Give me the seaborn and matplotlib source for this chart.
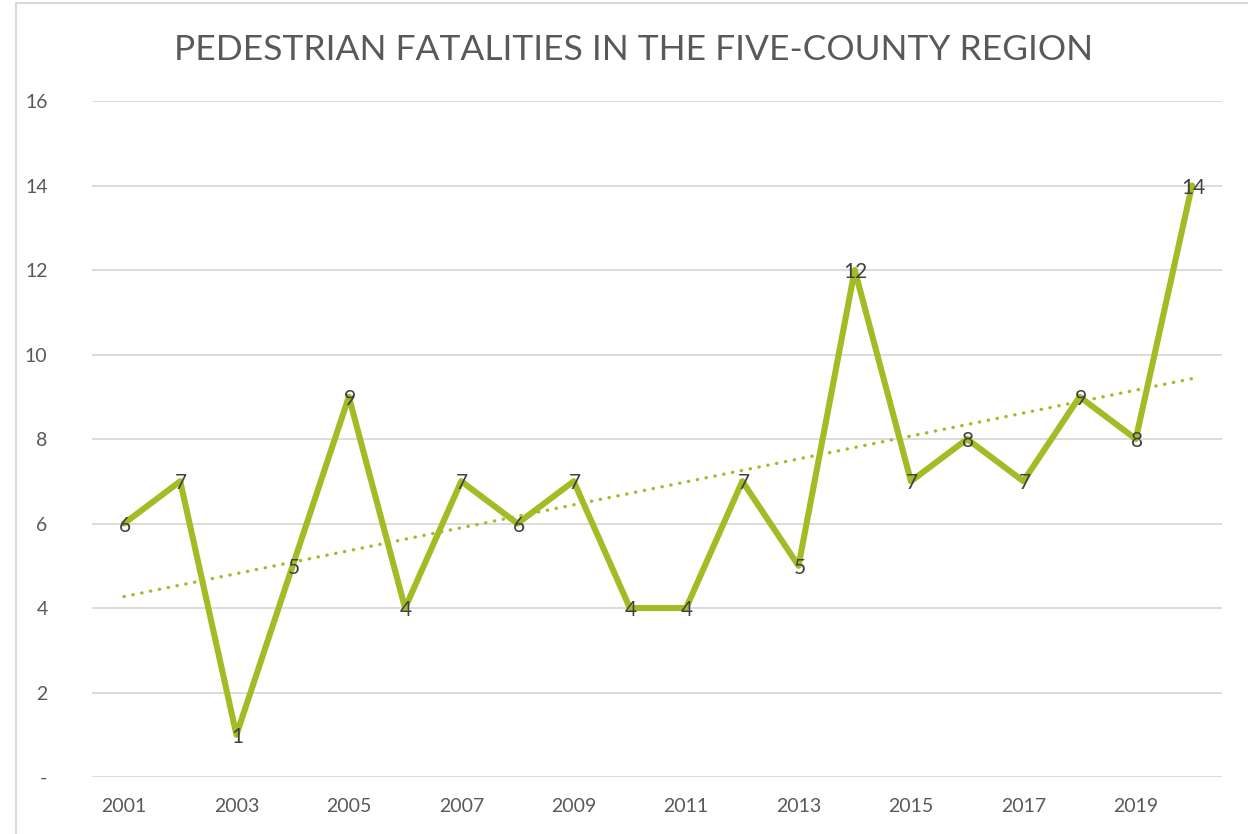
import numpy as np
import pandas as pd
import seaborn as sns
import matplotlib.pyplot as plt
from matplotlib.lines import Line2D

# data
years = [2001, 2002, 2003, 2004, 2005, 2006, 2007, 2008, 2009, 2010,
         2011, 2012, 2013, 2014, 2015, 2016, 2017, 2018, 2019, 2020]
fatalities = [6, 7, 1, 5, 9, 4, 7, 6, 7, 4, 4, 7, 5, 12, 7, 8, 7, 9, 8, 14]
y_ticks = [0, 2, 4, 6, 8, 10, 12, 14, 16]
y_tick_labels = ['-', '2', '4', '6', '8', '10', '12', '14', '16']
x_tick_years = [2001, 2003, 2005, 2007, 2009, 2011, 2013, 2015, 2017, 2019]

df = pd.DataFrame({'year': years, 'fatalities': fatalities})

sns.set_theme(style='white')
plt.rcParams['font.family'] = ['Lato', 'DejaVu Sans']

green = '#A5BB25'
grid = '#D9D9D9'
label_col = '#595959'

fig = plt.figure(figsize=(12.48, 8.34), dpi=100)
ax = fig.add_axes([0.0737, 0.0683, 0.9053, 0.8106])

# trendline (linear fit, dotted)
sns.regplot(data=df, x='year', y='fatalities', scatter=False, ci=None, ax=ax,
            line_kws={'color': green, 'linestyle': (0, (0.1, 2.6)),
                      'linewidth': 2.4, 'dash_capstyle': 'round'})

# main series
sns.lineplot(data=df, x='year', y='fatalities', ax=ax, color=green,
             linewidth=4.4, solid_joinstyle='round', solid_capstyle='round')

# data labels centred on the points
for yr, v in zip(years, fatalities):
    ax.text(yr + 0.02, v - 0.05, str(v), ha='center', va='center',
            fontsize=15, color='#404040', zorder=5)

ax.set_xlim(2000.43, 2020.53)
ax.set_ylim(0, 16)
ax.set_yticks(y_ticks)
ax.set_yticklabels(y_tick_labels)
ax.set_xticks(x_tick_years)
ax.set_xticklabels([str(y) for y in x_tick_years])
ax.tick_params(axis='both', length=0, labelsize=14, colors=label_col)
ax.tick_params(axis='y', pad=32)
ax.tick_params(axis='x', pad=15)
ax.yaxis.grid(True, color=grid, linewidth=1.3)
ax.set_axisbelow(True)
for s in ax.spines.values():
    s.set_visible(False)
ax.set_xlabel('')
ax.set_ylabel('')

fig.text(0.508, 0.940, 'PEDESTRIAN FATALITIES IN THE FIVE-COUNTY REGION',
         ha='center', va='center', fontsize=25.5, color=label_col)

# chart frame
fig.add_artist(Line2D([16 / 1248, 16 / 1248], [0, 1 - 3 / 834],
                      color=grid, linewidth=1.5))
fig.add_artist(Line2D([16 / 1248, 1], [1 - 3 / 834, 1 - 3 / 834],
                      color=grid, linewidth=1.5))

fig.savefig('out.png', dpi=100)
